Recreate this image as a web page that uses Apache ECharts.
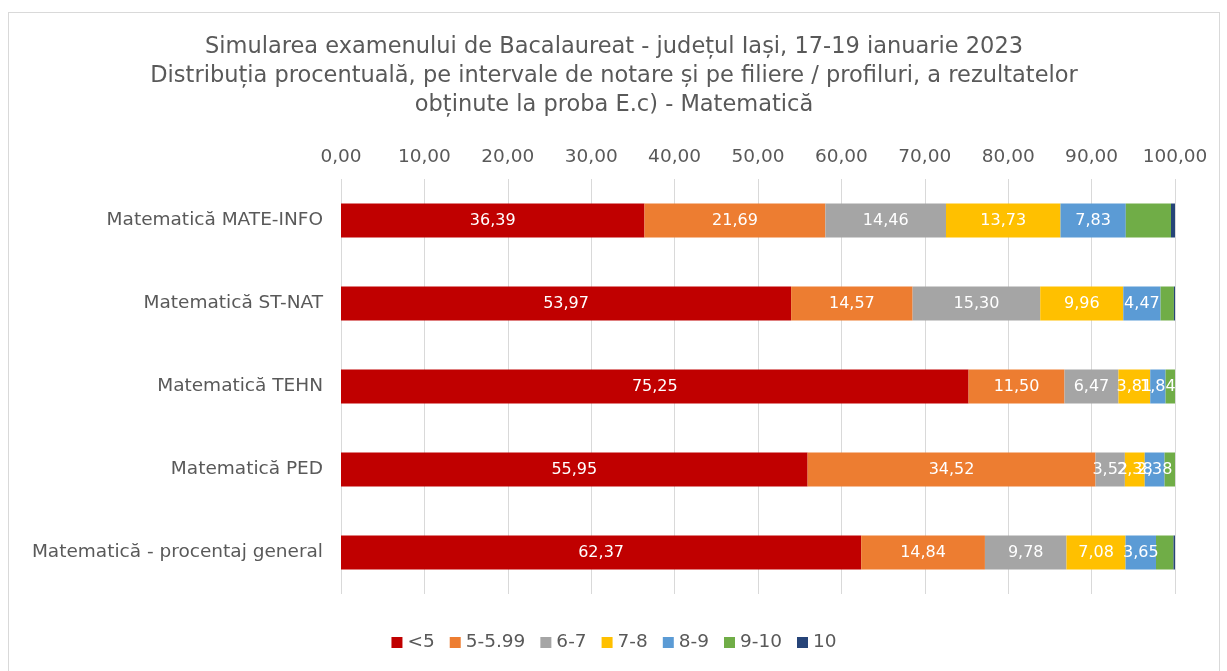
<!DOCTYPE html>
<html>
<head>
<meta charset="utf-8">
<script src="https://cdn.jsdelivr.net/npm/echarts@6/dist/echarts.min.js"></script>
<style>
  html, body { margin: 0; padding: 0; background: #fff; }
  #chart { position: absolute; left: 8px; top: 12px; width: 1212px; height: 680px;
           border: 1px solid #d9d9d9; box-sizing: border-box; }
</style>
</head>
<body>
<div id="chart"></div>
<script>
// categorii (de sus in jos)
var categories = ['Matematică MATE-INFO', 'Matematică ST-NAT', 'Matematică TEHN', 'Matematică PED', 'Matematică - procentaj general'];
var seriesNames = ['<5', '5-5.99', '6-7', '7-8', '8-9', '9-10', '10'];
var colors = ['#C00000', '#ED7D31', '#A5A5A5', '#FFC000', '#5B9BD5', '#70AD47', '#264478'];

var sub5 = [36.39, 53.97, 75.25, 55.95, 62.37];
var v5_599 = [21.69, 14.57, 11.50, 34.52, 14.84];
var v6_7 = [14.46, 15.30, 6.47, 3.52, 9.78];
var v7_8 = [13.73, 9.96, 3.81, 2.38, 7.08];
var v8_9 = [7.83, 4.47, 1.84, 2.38, 3.65];
var v9_10 = [5.42, 1.60, 1.13, 1.25, 2.10];
var v10 = [0.48, 0.13, 0, 0, 0.18];
var allValues = [sub5, v5_599, v6_7, v7_8, v8_9, v9_10, v10];
var tickMax = 100;

var FONT = 'DejaVu Sans';
var chart = echarts.init(document.getElementById('chart'));

function fmt(v) {
  return v.toFixed(2).replace('.', ',');
}

var series = allValues.map(function(vals, i) {
  return {
    name: seriesNames[i],
    type: 'bar',
    stack: 'total',
    barWidth: 34,
    data: vals,
    itemStyle: { color: colors[i] },
    label: {
      show: i < 5,
      position: 'inside',
      color: '#fff',
      fontSize: 16,
      fontFamily: FONT,
      formatter: function(p) { return fmt(p.value); }
    }
  };
});

var option = {
  animation: false,
  title: {
    text: 'Simularea examenului de Bacalaureat - județul Iași, 17-19 ianuarie 2023\nDistribuția procentuală, pe intervale de notare și pe filiere / profiluri, a rezultatelor\nobținute la proba E.c) - Matematică',
    left: 'center',
    top: 15,
    textStyle: {
      color: '#595959',
      fontSize: 22.5,
      fontWeight: 'normal',
      fontFamily: FONT,
      lineHeight: 29
    }
  },
  legend: {
    bottom: 34,
    left: 'center',
    itemWidth: 11,
    itemHeight: 11,
    itemGap: 15,
    icon: 'rect',
    textStyle: { color: '#595959', fontSize: 18.5, fontFamily: FONT },
    data: seriesNames
  },
  grid: {
    left: 332,
    right: 44,
    top: 166,
    bottom: 97
  },
  xAxis: {
    type: 'value',
    position: 'top',
    min: 0,
    max: tickMax,
    interval: 10,
    axisLine: { show: false },
    axisTick: { show: false },
    axisLabel: {
      color: '#595959',
      fontSize: 18.5,
      fontFamily: FONT,
      margin: 12,
      formatter: function(v) { return fmt(v); }
    },
    splitLine: { lineStyle: { color: '#d9d9d9', width: 1 } }
  },
  yAxis: {
    type: 'category',
    inverse: true,
    data: categories,
    axisLine: { show: false },
    axisTick: { show: false },
    axisLabel: {
      color: '#595959',
      fontSize: 18.5,
      fontFamily: FONT,
      margin: 18
    }
  },
  series: series
};

chart.setOption(option);
</script>
</body>
</html>
